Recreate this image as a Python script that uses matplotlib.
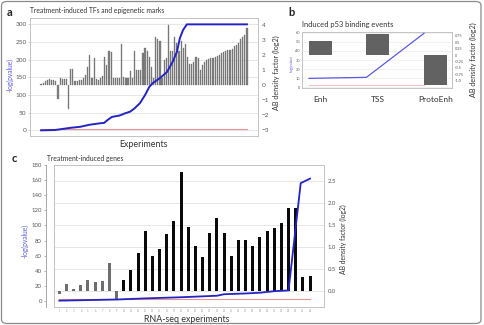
import numpy as np
import matplotlib.pyplot as plt
from matplotlib.patches import FancyBboxPatch, Rectangle

plt.rcParams['font.family'] = ['Lato', 'DejaVu Sans']

W, H = 485, 325

# ---- panel a: TFs and epigenetic marks ----
a_density = [0.05, 0.15, 0.27, 0.31, 0.38, 0.34, 0.31, 0.27, -0.9, 0.5,
             0.38, 0.38, 0.41, -1.6, 1.08, 1.08, 0.27, 0.27, 0.34, 0.31,
             0.45, 0.69, 1.2, 2.02, 0.5, 1.78, 0.38, 0.34, 0.5, 0.62,
             1.9, 1.32, 2.25, 2.18, 0.5, 0.5, 0.45, 0.5, 2.72, 0.55,
             0.5, 0.5, 0.92, 0.5, 2.25, 0.97, 0.97, 0.97, 2.13, 2.48,
             2.25, 1.9, 1.2, 0.5, 3.18, 3.07, 2.95, 0.5, 1.67, 1.78,
             4.0, 2.25, 2.25, 3.18, 2.83, 2.25, 2.95, 2.48, 2.72, 1.9,
             1.43, 1.43, 1.55, 1.9, 1.78, 0.97, 1.32, 1.55, 1.67, 1.74,
             1.78, 1.83, 1.85, 1.95, 2.02, 2.13, 2.18, 2.25, 2.32, 2.32,
             2.37, 2.6, 2.65, 2.83, 3.07, 3.18, 3.35, 3.77]
a_line_x = [0, 6.6, 9, 13.7, 18.4, 23, 27.8, 29.7, 31.5, 33.4, 37, 39.5, 42,
            44, 46.6, 49, 51, 52.7, 56, 59.3, 62, 64, 65.4, 66.9, 68.7, 97]
a_line_y = [0, 1, 3, 7, 10, 16, 20, 21, 30, 38, 42, 48, 53,
            62, 77, 100, 123, 134, 148, 165, 194, 222, 261, 284, 300, 300]
a_threshold = 3

# ---- panel b: induced p53 binding events ----
b_cats = ['Enh', 'TSS', 'ProtoEnh']
b_density = [0.56, 0.82, -1.17]
b_pval = [10, 11.1, 59.2]
b_threshold = 2.7

# ---- panel c: treatment-induced genes ----
c_density = [-0.07, 0.16, 0.05, 0.14, 0.25, 0.2, 0.23, 0.65, -0.17, 0.26,
             0.48, 0.86, 1.37, 0.80, 0.96, 1.30, 1.60, 2.72, 1.45, 1.02,
             0.77, 1.32, 1.66, 1.32, 0.80, 1.17, 1.17, 1.04, 1.24, 1.36,
             1.43, 1.55, 1.89, 1.90, 0.32, 0.35]
c_gray = 9
c_line_x = [1, 9, 13, 18, 23, 24, 27, 29, 31, 33, 34.7, 36]
c_line_y = [0.5, 2, 3.5, 5, 7, 9, 10, 11, 13, 14, 156, 162]
c_threshold = 2.6

BLUE = '#2424c4'
LBLUE = '#5a5ae0'
RED = '#e89494'
GRID = '#e2e2e2'
FRAME = '#c4c4c4'
TXT = '#333333'
TICK = '#595959'


def rect(x0, y0, x1, y1):
    return [x0 / W, 1 - y1 / H, (x1 - x0) / W, (y1 - y0) / H]


def ftext(x, y, s, **kw):
    kw.setdefault('color', TXT)
    kw.setdefault('va', 'center')
    fig.text(x / W, 1 - y / H, s, **kw)


def frame(ax):
    for sp in ax.spines.values():
        sp.set_color(FRAME)
        sp.set_linewidth(0.7)


fig = plt.figure(figsize=(W / 100, H / 100), dpi=100)

# ================= panel a =================
axl = fig.add_axes(rect(30, 18, 258, 136))
axr = axl.twinx()
x = np.arange(len(a_density))
axr.bar(x, a_density, width=0.55, color='#828282', edgecolor='#5e5e5e',
        linewidth=0.2, zorder=2)
axr.plot(a_line_x, a_line_y, color=BLUE, lw=1.4, transform=axl.transData,
         zorder=4)
axr.plot([0, len(a_density) - 1], [a_threshold] * 2, color=RED, lw=0.8,
         transform=axl.transData, zorder=3)
axl.set_xlim(-5.2, 102.2)
axl.set_ylim(-16, 318)
axr.set_ylim(-3.4, 4.47)
axl.set_yticks(np.arange(0, 301, 50))
axr.set_yticks(np.arange(-3, 5, 1))
axl.grid(axis='y', color=GRID, lw=0.6)
axl.set_xticks([])
axl.tick_params(axis='y', labelsize=4.6, colors=TICK, length=1.3, width=0.5,
                pad=1.2)
axl.tick_params(axis='y', color=FRAME)
axr.tick_params(axis='y', labelsize=4.6, labelcolor=TICK, length=0, pad=2.5)
frame(axl)
frame(axr)

ftext(10, 12, 'a', fontsize=8, weight='bold', ha='center', color='#222222')
ftext(30, 11, 'Treatment-induced TFs and epigenetic marks', fontsize=4.9,
      ha='left')
ftext(143, 144, 'Experiments', fontsize=6.4, ha='center')
ftext(10, 75, '-log(pvalue)', fontsize=4.8, rotation=90, ha='center',
      color=LBLUE)
ftext(276, 73, 'AB density factor (log2)', fontsize=5.2, rotation=90,
      ha='center')

# ================= panel b =================
bl = fig.add_axes(rect(302, 32, 452, 88))
br = bl.twinx()
xb = np.arange(len(b_cats))
br.bar(xb, b_density, width=0.4, color='#626262', zorder=2)
br.plot(xb - 0.2, b_pval, color=LBLUE, lw=0.9, transform=bl.transData,
        zorder=4)
br.plot([xb[0] - 0.2, xb[-1] - 0.2], [b_threshold] * 2, color='#f2c4c4',
        lw=0.8, transform=bl.transData, zorder=3)
bl.set_xlim(-0.32, 2.287)
bl.set_ylim(-0.55, 60.66)
br.set_ylim(-1.284, 0.895)
bl.set_yticks(np.arange(0, 61, 10))
br.set_yticks([0.75, 0.5, 0.25, 0, -0.25, -0.5, -0.75, -1.0])
br.set_yticklabels(['0.75', '0.5', '0.25', '0', '-0.25', '-0.5', '-0.75',
                    '-1.0'])
bl.grid(axis='y', color='#ededed', lw=0.5)
bl.set_xticks(xb)
bl.set_xticklabels(b_cats)
bl.tick_params(axis='x', labelsize=6, labelcolor=TXT, length=0, pad=6)
bl.tick_params(axis='y', labelsize=2.8, labelcolor=TICK, length=0, pad=1.5)
br.tick_params(axis='y', labelsize=2.8, labelcolor=TICK, length=0, pad=2)
frame(bl)
frame(br)

ftext(292, 13, 'b', fontsize=8, weight='bold', ha='center', color='#222222')
ftext(302, 25, 'Induced p53 binding events', fontsize=5.4, ha='left')
ftext(292, 64, '-log(pvalue)', fontsize=2.3, rotation=90, ha='center',
      color=LBLUE)
ftext(473, 60, 'AB density factor (log2)', fontsize=5.2, rotation=90,
      ha='center')

# ================= panel c =================
cl = fig.add_axes(rect(54, 165, 324, 307))
cr = cl.twinx()
xc = np.arange(1, len(c_density) + 1)
colors = ['#6e6e6e'] * c_gray + ['#0a0a0a'] * (len(c_density) - c_gray)
cr.bar(xc, c_density, width=0.42, color=colors, zorder=2)
cr.plot(c_line_x, c_line_y, color=BLUE, lw=1.3, transform=cl.transData,
        zorder=4)
cr.plot([xc[0], xc[-1]], [c_threshold] * 2, color=RED, lw=0.8,
        transform=cl.transData, zorder=3)
cl.set_xlim(0.26, 37.95)
cl.set_ylim(-7.9, 180)
cr.set_ylim(-0.357, 2.87)
cl.set_yticks(np.arange(0, 181, 20))
cr.set_yticks(np.arange(0, 2.6, 0.5))
cr.set_yticklabels(['0.0', '0.5', '1.0', '1.5', '2.0', '2.5'])
cr.set_axisbelow(True)
cr.grid(axis='y', color=GRID, lw=0.6, zorder=0)
cl.set_xticks(xc)
cl.set_xticklabels([str(v) for v in xc])
cl.tick_params(axis='x', labelsize=1.8, labelcolor='#9a9a9a', length=0,
               pad=1.2)
cl.tick_params(axis='y', labelsize=4.3, labelcolor=TICK, color='#9a9a9a',
               length=1.5, width=0.5, pad=1.2)
cr.tick_params(axis='y', labelsize=4.3, labelcolor=TICK, length=0, pad=2.5)
frame(cl)
frame(cr)
cl.spines['left'].set_position(('outward', 6))
cl.spines['left'].set_color('#a8a8a8')
cl.add_patch(Rectangle((0, 0), 1, 1, transform=cl.transAxes, fill=False,
                       edgecolor=FRAME, lw=0.7, clip_on=False))

ftext(14, 159, 'c', fontsize=8, weight='bold', ha='center', color='#222222')
ftext(47, 159, 'Treatment-induced genes', fontsize=4.9, ha='left')
ftext(25, 241, '-log(pvalue)', fontsize=4.8, rotation=90, ha='center',
      color=LBLUE)
ftext(343, 239, 'AB density factor (log2)', fontsize=4.9, rotation=90,
      ha='center')
ftext(187, 320, 'RNA-seq experiments', fontsize=6.4, ha='center')

# outer rounded border
border = FancyBboxPatch((1.5 / W, 1.5 / H), 479.5 / W, 322 / H,
                        boxstyle='round,pad=0,rounding_size=0.012',
                        transform=fig.transFigure, fill=False,
                        edgecolor='#8a8a8a', lw=0.9)
fig.patches.append(border)

fig.savefig('out.png', dpi=100)
